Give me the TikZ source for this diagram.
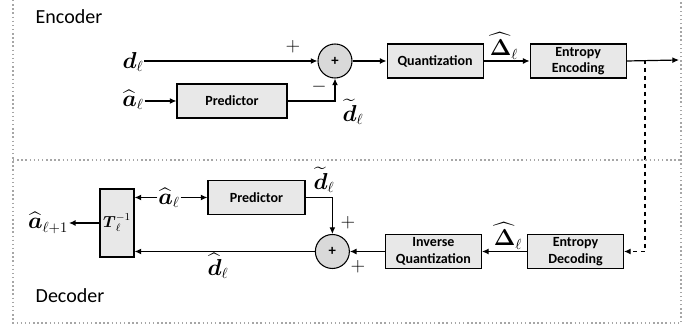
\documentclass[tikz,border=0pt]{standalone}
\usepackage{amsmath,amssymb}
\usepackage{fontspec}
\setmainfont{Carlito}
\usepackage{tikz}
\usetikzlibrary{arrows.meta, positioning}
\newcommand{\dvec}{\boldsymbol{d}_\ell}
\newcommand{\ahat}[1]{\widehat{\boldsymbol{a}}_{#1}}
\newcommand{\dtil}{\widetilde{\boldsymbol{d}}_\ell}
\newcommand{\dhat}{\widehat{\boldsymbol{d}}_\ell}
\newcommand{\Dhat}{\widehat{\boldsymbol{\Delta}}_\ell}

\begin{document}
\begin{tikzpicture}[
  x=0.75pt, y=-0.75pt,
  block/.style={draw, fill=gray!18, line width=0.8pt, align=center, inner sep=2pt,
                minimum width=72pt, minimum height=25.5pt,
                font=\fontsize{10.5}{12.5}\selectfont\bfseries},
  sumnode/.style={circle, draw, fill=gray!30, line width=0.8pt, minimum size=25.5pt,
                  inner sep=0pt, font=\fontsize{11}{12}\selectfont\bfseries},
  lbl/.style={font=\fontsize{16}{18}\selectfont, inner sep=0.5pt},
  sign/.style={font=\Large, inner sep=0pt},
  arr/.style={-{Latex[length=5pt, width=4.5pt]}, line width=0.9pt},
  frame/.style={draw=gray!70, dotted, line width=1.1pt},
  title/.style={anchor=west, font=\fontsize{15}{18}\selectfont},
  node distance=25.5pt
]
\useasboundingbox (0,0) rectangle (693,327);

% encoder
\node[title] (enc) at (31,17) {Encoder};
\node[sumnode] (sumE) at (335,61) {+};
\node[block, right=25.5pt of sumE] (quant) {Quantization};
\node[block, right=34.5pt of quant] (entEnc) {Entropy\\Encoding};
\node[block, minimum width=82.5pt] (predE) at (232,101) {Predictor};
\node[lbl] (dE) at (133,62) {$\dvec$};
\node[lbl] (aE) at (133,100) {$\ahat{\ell}$};
\node[lbl] (dtE) at (353,112) {$\dtil$};
\node[lbl] (DE) at (504,46) {$\Dhat$};
\node[sign] (plusE) at (293,47) {$+$};
\node[sign] (minusE) at (319,87) {$-$};
\coordinate (out) at (679,60);
\coordinate (tap) at (645,60);

\draw[arr] (dE.east |- sumE) -- (sumE);
\draw[arr] (aE.east |- predE) -- (predE);
\draw[arr] (predE.east) -| (sumE.south);
\draw[arr] (sumE) -- (quant);
\draw[arr] (quant) -- (entEnc);
\draw[arr] (entEnc.east) -- (out);

% decoder
\node[title] (dec) at (31,296) {Decoder};
\node[block] (entDec) at (575.5,251.5) {Entropy\\Decoding};
\node[block, left=33.75pt of entDec] (invQ) {Inverse\\Quantization};
\node[sumnode, left=26.25pt of invQ] (sumD) {+};
\node[block, minimum width=72.75pt] (predD) at (256.5,197.5) {Predictor};
\node[draw, fill=gray!18, line width=0.8pt, minimum width=25.5pt, minimum height=51pt,
      inner sep=0pt, font=\large] (tinv) at (117,223) {$\boldsymbol{T}_\ell^{-1}$};
\node[lbl] (aD) at (169,198) {$\ahat{\ell}$};
\node[lbl] (aNext) at (48,223) {$\ahat{\ell+1}$};
\node[lbl] (dtD) at (324,180) {$\dtil$};
\node[lbl] (dhD) at (218,266) {$\dhat$};
\node[lbl] (DD) at (508,236) {$\Dhat$};
\node[sign] (plusD1) at (348,223) {$+$};
\node[sign] (plusD2) at (358,267) {$+$};

\draw[arr, dashed] (tap) |- (entDec.east);
\draw[arr] (entDec) -- (invQ);
\draw[arr] (invQ) -- (sumD);
\draw[arr] (sumD) -- (sumD -| tinv.east);
\draw[arr] (predD.east) -| (sumD.north);
\draw[arr] (aD.east |- predD) -- (predD);
\draw[arr] (aD.west |- predD) -- (predD -| tinv.east);
\draw[arr] (tinv) -- (aNext.east |- tinv);

% frame
\draw[frame] (13,0) -- (13,323) -- (681,323) -- (681,0);
\draw[frame] (13,160) -- (681,160);
\end{tikzpicture}
\end{document}
